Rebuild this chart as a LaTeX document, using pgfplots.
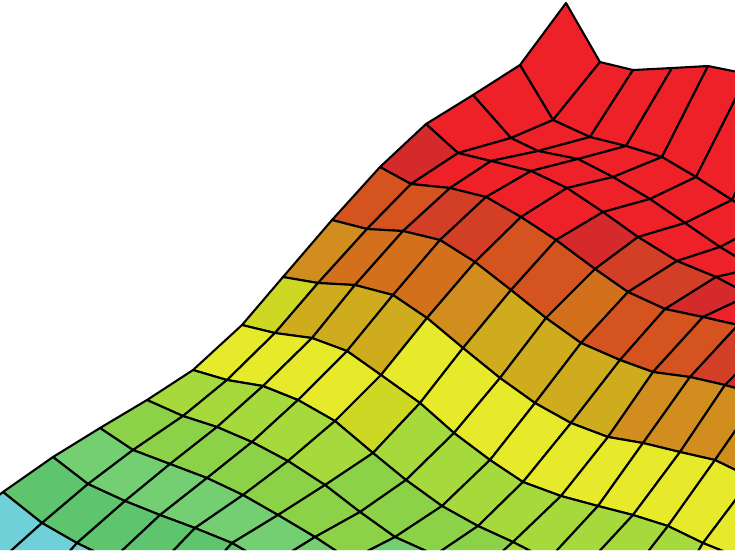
\documentclass[border=0pt]{standalone}
\usepackage{pgfplots}
\pgfplotsset{compat=1.18}
\begin{document}
\begin{tikzpicture}[x=1pt,y=1pt]
\useasboundingbox (0,0) rectangle (735,550);
\begin{axis}[
  at={(0,0)},anchor=south west,
  width=735pt,height=550pt,scale only axis,
  hide axis,
  view={0}{90},
  xmin=0,xmax=735,ymin=0,ymax=550,zmin=-1,zmax=1,
  y dir=reverse,
  enlargelimits=false,
  point meta min=0,point meta max=13,
  colormap={surface}{
    rgb255=(112,208,216) rgb255=(94,196,110) rgb255=(116,206,114) rgb255=(139,210,73)
    rgb255=(166,217,60) rgb255=(204,216,36) rgb255=(230,234,42) rgb255=(207,171,30)
    rgb255=(209,141,30) rgb255=(210,112,28) rgb255=(212,83,31) rgb255=(210,62,38)
    rgb255=(212,42,43) rgb255=(238,33,41)},
]
\addplot3[surf,shader=flat corner,draw=black,line width=2.1pt,line join=round,
  mesh/rows=14,mesh/cols=15,mesh/ordering=x varies,z buffer=default,point meta=explicit]
  table[row sep=\\,x=x,y=y,z expr=0,meta=c] {
x y c\\
566 3 13\\ 600 62 13\\ 633 70 13\\ 672 68 13\\ 708 66 13\\ 748 74 13\\ 790 80 13\\ 830 90 13\\ 870 100 13\\ 910 110 13\\ 950 120 13\\ 990 130 13\\ 1030 140 13\\ 1070 150 13\\ 1110 160 13\\
520 65 13\\ 553 120 13\\ 590 137 13\\ 626 146 13\\ 662 157 13\\ 696 177 13\\ 732 200 13\\ 768 222 13\\ 805 245 13\\ 845 268 13\\ 885 290 13\\ 925 310 13\\ 965 330 13\\ 1005 350 13\\ 1045 370 13\\
473 95 13\\ 511 138 13\\ 538 151 13\\ 578 159 13\\ 613 177 13\\ 650 199 13\\ 685 223 13\\ 720 247 13\\ 755 268 13\\ 795 290 13\\ 835 310 13\\ 875 330 13\\ 915 350 13\\ 955 370 13\\ 995 390 13\\
426 124 12\\ 458 153 13\\ 491 161 13\\ 531 171 13\\ 567 188 13\\ 603 212 12\\ 638 237 11\\ 677 261 11\\ 716 277 12\\ 750 295 13\\ 790 310 13\\ 830 325 13\\ 870 345 13\\ 910 365 13\\ 950 385 13\\
380 167 10\\ 411 184 10\\ 450 188 11\\ 486 197 11\\ 521 217 10\\ 556 240 10\\ 595 269 9\\ 628 292 10\\ 665 309 10\\ 703 317 10\\ 738 325 11\\ 775 335 12\\ 815 345 12\\ 855 365 12\\ 895 385 12\\
332 220 8\\ 367 229 9\\ 403 231 9\\ 440 240 9\\ 475 262 8\\ 511 290 7\\ 546 318 7\\ 581 343 7\\ 620 360 7\\ 653 372 8\\ 690 377 8\\ 725 385 8\\ 760 395 8\\ 800 405 8\\ 840 425 8\\
283 277 5\\ 318 283 7\\ 355 285 7\\ 393 295 7\\ 427 318 6\\ 463 348 6\\ 500 378 6\\ 535 403 6\\ 571 423 6\\ 608 437 6\\ 643 443 6\\ 680 452 6\\ 715 460 6\\ 752 478 6\\ 790 495 6\\
242 325 6\\ 275 333 6\\ 312 338 6\\ 347 351 6\\ 381 375 5\\ 420 403 4\\ 454 433 4\\ 490 460 4\\ 523 482 4\\ 561 496 4\\ 598 506 4\\ 633 515 4\\ 668 526 4\\ 703 543 6\\ 745 560 6\\
193 370 4\\ 227 380 4\\ 263 386 4\\ 298 400 4\\ 335 421 4\\ 373 453 3\\ 406 480 3\\ 442 506 3\\ 478 526 3\\ 513 542 4\\ 548 560 4\\ 595 556 4\\ 640 562 4\\ 690 565 4\\ 730 585 4\\
147 400 3\\ 183 416 3\\ 217 427 3\\ 252 442 3\\ 288 461 3\\ 325 485 3\\ 360 512 3\\ 395 537 2\\ 435 555 3\\ 470 580 3\\ 510 600 3\\ 550 620 3\\ 590 640 3\\ 630 660 3\\ 670 680 3\\
100 428 2\\ 133 450 2\\ 170 464 2\\ 207 478 2\\ 243 495 2\\ 278 515 2\\ 315 537 2\\ 350 560 2\\ 385 590 2\\ 425 610 2\\ 465 630 2\\ 505 650 2\\ 545 670 2\\ 585 690 2\\ 625 710 2\\
53 457 1\\ 88 484 1\\ 125 501 1\\ 160 515 1\\ 195 528 1\\ 232 543 1\\ 270 565 1\\ 310 590 1\\ 350 615 1\\ 390 635 1\\ 430 655 1\\ 470 675 1\\ 510 695 1\\ 550 715 1\\ 590 735 1\\
3 492 0\\ 42 523 0\\ 77 543 0\\ 112 560 0\\ 150 575 0\\ 190 590 0\\ 230 610 0\\ 270 630 0\\ 310 650 0\\ 350 670 0\\ 390 690 0\\ 430 710 0\\ 470 730 0\\ 510 750 0\\ 550 770 0\\
-40 525 0\\ -5 565 0\\ 35 590 0\\ 75 610 0\\ 115 625 0\\ 155 640 0\\ 195 660 0\\ 235 680 0\\ 275 700 0\\ 315 720 0\\ 355 740 0\\ 395 760 0\\ 435 780 0\\ 475 800 0\\ 515 820 0\\
};
\end{axis}
\end{tikzpicture}
\end{document}
